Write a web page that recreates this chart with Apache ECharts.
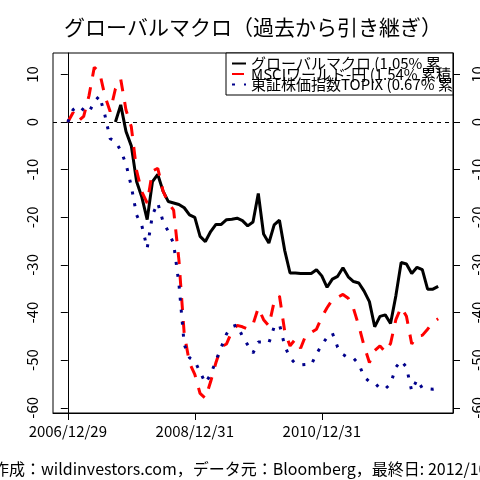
<!DOCTYPE html>
<html>
<head>
<meta charset="utf-8">
<script src="https://cdn.jsdelivr.net/npm/echarts@6/dist/echarts.min.js"></script>
<style>
html, body { margin: 0; padding: 0; background: #fff; }
#chart { width: 480px; height: 480px; }
</style>
</head>
<body>
<div id="chart"></div>
<script>
// 月次インデックス: 0 = 2006/12 ... 70 = 2012/10
var seriesNames = [
  'グローバルマクロ (1.05% 累積)',
  'MSCIワールド-円 (1.54% 累積)',
  '東証株価指数TOPIX (0.67% 累積)'
];
var macro = [null, null, null, null, null, null, null, null, null,
  0, 3.6, -2, -5, -12.5, -15.8, -20.5, -12.5, -11, -14.5, -16.7,
  -17, -17.3, -18, -19.5, -20, -24, -25.1, -23, -21.5, -21.5,
  -20.5, -20.4, -20.2, -20.7, -21.8, -21, -15, -23.5, -25.4, -21.6,
  -20.6, -27, -31.7, -31.7, -31.8, -31.8, -31.8, -31, -32.3, -34.7,
  -33, -32.4, -30.6, -32.5, -33.5, -33.8, -35.5, -37.7, -43, -40.8,
  -40.5, -42.3, -36.5, -29.5, -29.8, -31.8, -30.5, -31, -35.1, -35.1,
  -34.5];
var msciYen = [0, 2, 0.2, 1.2, 5.5, 11.5, 10.5, 5.5, 2.2, 7,
  9, 2.5, -1, -10.2, -14.7, -17, -10.3, -9.7, -14.5, -17,
  -18.5, -29, -44.5, -50.6, -53, -57, -58, -54.5, -50.5, -47.2,
  -46.6, -44, -42.7, -43, -43.5, -42.5, -39, -41.5, -42.8, -37.7,
  -36.5, -44, -47, -45.6, -47.5, -44.7, -44.2, -43.5, -41, -39,
  -37.3, -36.8, -36.2, -37, -39.2, -42.8, -47, -50.5, -48, -47,
  -48.3, -46.5, -41.5, -38.9, -40.8, -46.6, -44.9, -44.8, -43.5, -42,
  -41.3];
var topix = [0, 2.6, 3.4, 2.5, 2, 4.3, 5.5, 1.5, -3.5, -4,
  -6, -8.8, -13.5, -19.5, -21.8, -26.5, -19.5, -17, -20.9, -23,
  -25.5, -34, -46.7, -49.5, -50.2, -52.5, -54.8, -53, -50.1, -47.3,
  -44.5, -43, -42.6, -45, -46.8, -48.5, -46.2, -46.2, -46.4, -43,
  -42.5, -47, -49.5, -50.7, -51, -50.9, -51, -48.7, -46.8, -45.2,
  -44.3, -47.3, -48.8, -49.5, -49.6, -50.8, -53.5, -54.5, -54.7, -56,
  -56, -55, -51.5, -50.1, -51.5, -56.5, -54.1, -55.9, -56, -56.1,
  -55.9];
var xTickIdx = [0, 24, 48];
var xTickLabels = ['2006/12/29', '2008/12/31', '2010/12/31'];
var yTicks = [-60, -50, -40, -30, -20, -10, 0, 10];

var FONT = '"Noto Sans CJK JP", sans-serif';

function toPairs(arr) {
  var out = [];
  arr.forEach(function (v, i) {
    if (v !== null) out.push([i, v]);
  });
  return out;
}

function yAxisOf(pos, margin) {
  return {
    type: 'value',
    position: pos,
    min: -61.1,
    max: 14.5,
    axisLine: { show: true, lineStyle: { color: '#000', width: 1 } },
    axisTick: { show: true, length: 7, customValues: yTicks, lineStyle: { color: '#000' } },
    axisLabel: {
      customValues: yTicks, rotate: 90, margin: margin,
      color: '#000', fontSize: 15, fontFamily: FONT
    },
    splitLine: { show: false }
  };
}

var chart = echarts.init(document.getElementById('chart'));
chart.setOption({
  animation: false,
  backgroundColor: '#fff',
  title: {
    text: 'グローバルマクロ（過去から引き継ぎ）',
    left: 64,
    top: 17,
    padding: 0,
    textStyle: { fontFamily: FONT, fontSize: 21, fontWeight: 'normal', color: '#000' }
  },
  grid: {
    left: 53, right: 27, top: 53, bottom: 67,
    containLabel: false,
    outerBoundsMode: 'none',
    show: true, borderColor: '#000', borderWidth: 1, backgroundColor: 'transparent'
  },
  legend: {
    orient: 'vertical',
    left: 226,
    top: 53,
    padding: [3, 0, 3, 5],
    itemWidth: 14,
    itemHeight: 10,
    itemGap: -4.5,
    backgroundColor: '#fff',
    borderColor: '#000',
    borderWidth: 1,
    borderRadius: 0,
    selectedMode: false,
    itemStyle: { opacity: 0 },
    data: seriesNames,
    textStyle: {
      fontFamily: FONT, fontSize: 15, color: '#000',
      width: 203, overflow: 'truncate', ellipsis: ''
    }
  },
  xAxis: {
    type: 'value',
    min: -2.8,
    max: 72.8,
    axisLine: { show: true, onZero: false, lineStyle: { color: '#000' } },
    axisTick: { show: true, length: 7, customValues: xTickIdx, lineStyle: { color: '#000' } },
    axisLabel: {
      customValues: xTickIdx,
      formatter: function (v) { return xTickLabels[xTickIdx.indexOf(v)]; },
      margin: 11, color: '#000', fontSize: 15, fontFamily: FONT
    },
    splitLine: { show: false }
  },
  yAxis: [yAxisOf('left', 13), yAxisOf('right', 17)],
  graphic: [{
    type: 'text',
    left: -7,
    top: 461,
    style: {
      text: '作成：wildinvestors.com，データ元：Bloomberg，最終日: 2012/10/31',
      font: '16px ' + FONT,
      fill: '#000'
    }
  }],
  series: [
    {
      name: seriesNames[0], type: 'line', data: toPairs(macro),
      symbol: 'none', color: '#000',
      lineStyle: { color: '#000', width: 3 },
      markLine: {
        silent: true, symbol: 'none', label: { show: false },
        lineStyle: { color: '#000', width: 1, type: [4, 4] },
        data: [{ yAxis: 0 }]
      }
    },
    {
      name: seriesNames[1], type: 'line', data: toPairs(msciYen),
      symbol: 'none', color: '#ff0000',
      lineStyle: { color: '#ff0000', width: 3, type: [12, 11] }
    },
    {
      name: seriesNames[2], type: 'line', data: toPairs(topix),
      symbol: 'none', color: '#00008b',
      lineStyle: { color: '#00008b', width: 3, type: [3, 9] }
    }
  ]
});
</script>
</body>
</html>
